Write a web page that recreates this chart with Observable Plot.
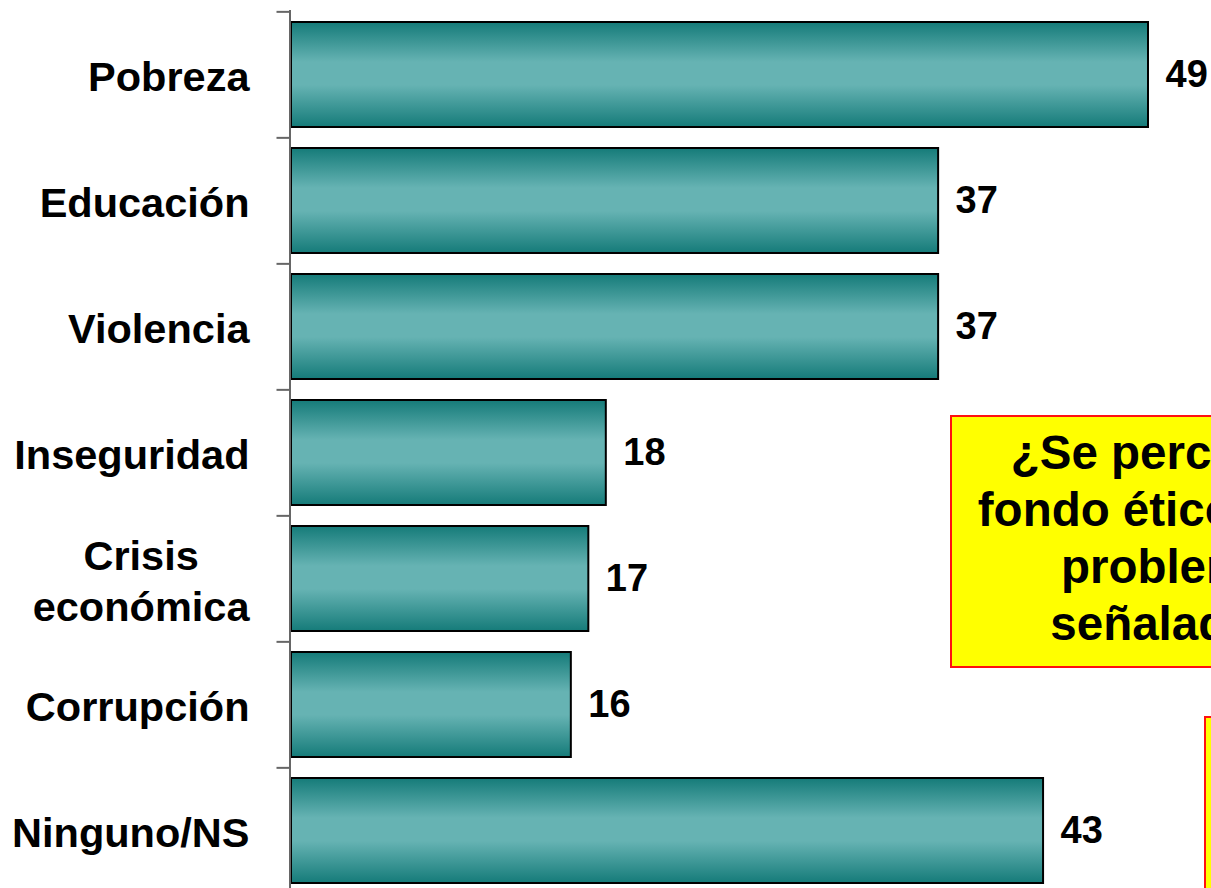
<!DOCTYPE html>
<html>
<head>
<meta charset="utf-8">
<script src="https://cdn.jsdelivr.net/npm/d3@7"></script>
<script src="https://cdn.jsdelivr.net/npm/@observablehq/plot@0.6"></script>
<style>
  html, body { margin: 0; padding: 0; background: #fff; overflow: hidden; width: 1211px; height: 888px; }
  #wrap { position: relative; width: 1211px; height: 888px; overflow: hidden; }
  #chart { position: absolute; left: 0; top: 0; }
  .note {
    position: absolute; box-sizing: border-box;
    background: #ffff00; border: 2px solid #ff1010;
    font-family: "Liberation Sans", Arial, sans-serif; font-weight: bold;
    color: #000; text-align: center;
  }
  #note1 { left: 950px; top: 415px; width: 462px; height: 253px; font-size: 47.5px; line-height: 57px; padding-top: 7px; white-space: nowrap; }
  #note2 { left: 1204px; top: 716px; width: 420px; height: 300px; }
</style>
</head>
<body>
<div id="wrap">
  <div id="chart"></div>
  <div class="note" id="note1">¿Se percibe un<br>fondo ético en los<br>problemas<br>señalados?</div>
  <div class="note" id="note2"></div>
</div>
<script>
const categories = ["Pobreza", "Educación", "Violencia", "Inseguridad", "Crisis\neconómica", "Corrupción", "Ninguno/NS"];
const values = [49, 37, 37, 18, 17, 16, 43];

const data = categories.map((c, i) => ({category: c, value: values[i]}));

const H = 894, MT = 10, MB = 0;
const step = (H - MT - MB) / categories.length;

const svg = Plot.plot({
  width: 1211,
  height: H,
  marginLeft: 291,
  marginRight: 63,
  marginTop: MT,
  marginBottom: MB,
  style: {fontFamily: "'Liberation Sans', Arial, sans-serif", background: "transparent", overflow: "visible"},
  x: {domain: [0, 49], axis: null},
  y: {domain: categories, paddingInner: 0.168, paddingOuter: 0.084, axis: null},
  marks: [
    Plot.barX(data, {x: "value", y: "category", fill: "url(#tealGrad)", stroke: "#000", strokeWidth: 2}),
    Plot.text(data, {x: "value", y: "category", text: d => String(d.value), textAnchor: "start", dx: 17, fontSize: 38, fontWeight: "bold", fill: "#000"}),
    Plot.ruleX([0], {stroke: "#666", strokeWidth: 2, dx: -1.5}),
    Plot.axisY({label: null, tickSize: 13, tickFormat: () => "", color: "#666", strokeWidth: 2, dy: -step / 2, tickPadding: 0, dx: -1.5}),
    Plot.axisY({label: null, tickSize: 0, tickPadding: 42, fontSize: 41.5, fontWeight: "bold", fill: "#000", lineHeight: 1.22})
  ]
});

// gradient definition for the bars
const ns = "http://www.w3.org/2000/svg";
const defs = document.createElementNS(ns, "defs");
const grad = document.createElementNS(ns, "linearGradient");
grad.setAttribute("id", "tealGrad");
grad.setAttribute("x1", "0"); grad.setAttribute("y1", "0");
grad.setAttribute("x2", "0"); grad.setAttribute("y2", "1");
[[0, "#157b79"], [0.38, "#66b3b3"], [0.6, "#66b3b3"], [1, "#157b79"]].forEach(([o, c]) => {
  const s = document.createElementNS(ns, "stop");
  s.setAttribute("offset", o);
  s.setAttribute("stop-color", c);
  grad.appendChild(s);
});
defs.appendChild(grad);
svg.insertBefore(defs, svg.firstChild);

document.getElementById("chart").appendChild(svg);

// center the two-line label as a block (right edge kept)
svg.querySelectorAll("text").forEach(t => {
  const spans = t.querySelectorAll("tspan");
  if (spans.length > 1) {
    let w = 0;
    spans.forEach(s => { w = Math.max(w, s.getComputedTextLength()); });
    t.setAttribute("text-anchor", "middle");
    t.style.textAnchor = "middle";
    spans.forEach(s => {
      const x0 = parseFloat(s.getAttribute("x")) || 0;
      s.setAttribute("x", x0 - w / 2);
    });
  }
});
</script>
</body>
</html>
